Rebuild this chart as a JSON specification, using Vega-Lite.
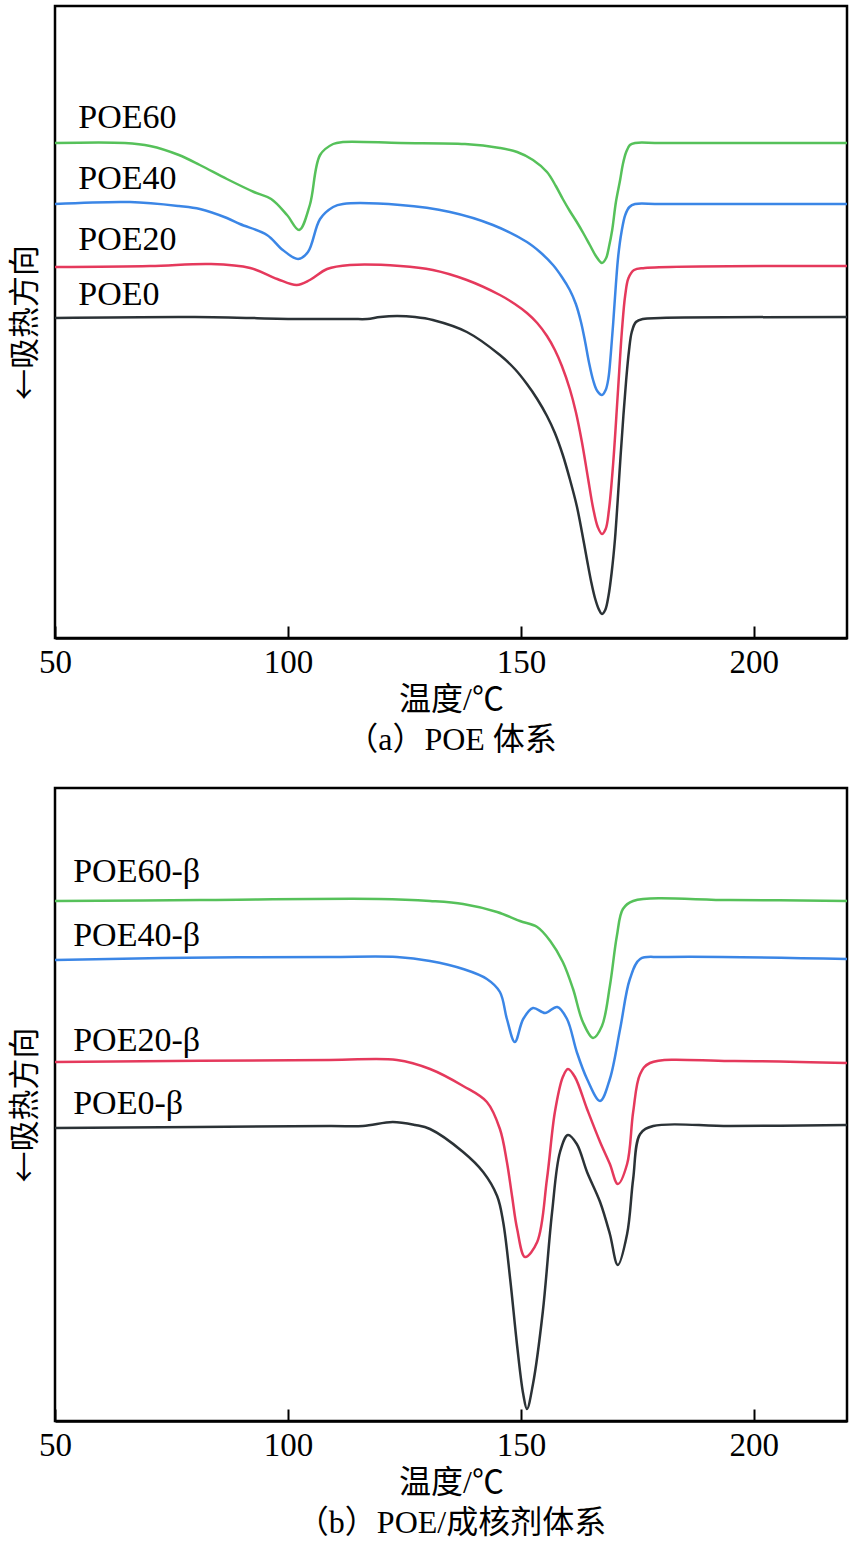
{
  "$schema": "https://vega.github.io/schema/vega-lite/v6.json",
  "padding": {"left": 7, "top": 4, "right": 0, "bottom": 0},
  "background": "white",
  "spacing": 29,
  "config": {
    "view": {"stroke": "black", "strokeWidth": 2.5},
    "axis": {"grid": false, "titleFontWeight": "normal", "titleColor": "black", "labelColor": "black"}
  },
  "datasets": {
    "a": [
      {"s":"POE60","T":50,"v":495},{"s":"POE60","T":65,"v":495},{"s":"POE60","T":70.4,"v":492},{"s":"POE60","T":76.6,"v":483},{"s":"POE60","T":81.1,"v":473},{"s":"POE60","T":86.9,"v":459},{"s":"POE60","T":92.7,"v":446},{"s":"POE60","T":96.4,"v":439},{"s":"POE60","T":99.8,"v":423},{"s":"POE60","T":102.4,"v":408},{"s":"POE60","T":104.7,"v":433},{"s":"POE60","T":106.9,"v":483},{"s":"POE60","T":109.7,"v":494},{"s":"POE60","T":111.8,"v":496},{"s":"POE60","T":124.1,"v":495},{"s":"POE60","T":138,"v":494},{"s":"POE60","T":145.5,"v":490},{"s":"POE60","T":149.2,"v":486},{"s":"POE60","T":152.6,"v":478},{"s":"POE60","T":155.6,"v":466},{"s":"POE60","T":157.5,"v":452},{"s":"POE60","T":159.0,"v":439},{"s":"POE60","T":160.5,"v":427},{"s":"POE60","T":162.0,"v":416},{"s":"POE60","T":163.5,"v":404},{"s":"POE60","T":164.8,"v":393},{"s":"POE60","T":166.1,"v":382},{"s":"POE60","T":167.4,"v":375},{"s":"POE60","T":168.3,"v":380},{"s":"POE60","T":168.9,"v":391},{"s":"POE60","T":169.6,"v":408},{"s":"POE60","T":170.4,"v":436},{"s":"POE60","T":171.3,"v":458},{"s":"POE60","T":171.9,"v":474},{"s":"POE60","T":172.6,"v":486},{"s":"POE60","T":173.4,"v":493},{"s":"POE60","T":174.5,"v":495},{"s":"POE60","T":179.9,"v":495},{"s":"POE60","T":220,"v":495},
      {"s":"POE40","T":50,"v":434},{"s":"POE40","T":66.1,"v":436},{"s":"POE40","T":76.6,"v":432},{"s":"POE40","T":81.1,"v":429},{"s":"POE40","T":86.9,"v":420},{"s":"POE40","T":89.7,"v":414},{"s":"POE40","T":95.5,"v":403},{"s":"POE40","T":98.9,"v":388},{"s":"POE40","T":102.2,"v":379},{"s":"POE40","T":104.3,"v":386},{"s":"POE40","T":106.9,"v":419},{"s":"POE40","T":109.7,"v":431},{"s":"POE40","T":111.8,"v":434},{"s":"POE40","T":124.1,"v":433},{"s":"POE40","T":134.8,"v":426},{"s":"POE40","T":144.0,"v":413},{"s":"POE40","T":151.3,"v":396},{"s":"POE40","T":154.1,"v":386},{"s":"POE40","T":156.9,"v":373},{"s":"POE40","T":158.8,"v":361},{"s":"POE40","T":160.5,"v":348},{"s":"POE40","T":161.8,"v":334},{"s":"POE40","T":162.9,"v":316},{"s":"POE40","T":163.8,"v":296},{"s":"POE40","T":164.6,"v":276},{"s":"POE40","T":165.5,"v":258},{"s":"POE40","T":166.4,"v":247},{"s":"POE40","T":167.4,"v":243},{"s":"POE40","T":168.2,"v":248},{"s":"POE40","T":168.8,"v":260},{"s":"POE40","T":169.3,"v":284},{"s":"POE40","T":169.8,"v":314},{"s":"POE40","T":170.4,"v":354},{"s":"POE40","T":170.9,"v":382},{"s":"POE40","T":171.6,"v":406},{"s":"POE40","T":172.4,"v":423},{"s":"POE40","T":173.3,"v":431},{"s":"POE40","T":174.5,"v":434},{"s":"POE40","T":179.9,"v":434},{"s":"POE40","T":220,"v":434},
      {"s":"POE20","T":50,"v":371},{"s":"POE20","T":70.4,"v":372},{"s":"POE20","T":83.5,"v":374},{"s":"POE20","T":91.9,"v":370},{"s":"POE20","T":97.7,"v":359},{"s":"POE20","T":101.9,"v":353},{"s":"POE20","T":104.7,"v":358},{"s":"POE20","T":108.4,"v":369},{"s":"POE20","T":113.3,"v":373},{"s":"POE20","T":124.1,"v":372},{"s":"POE20","T":131.1,"v":368},{"s":"POE20","T":138.4,"v":358},{"s":"POE20","T":145.5,"v":343},{"s":"POE20","T":148.7,"v":334},{"s":"POE20","T":151.3,"v":325},{"s":"POE20","T":153.5,"v":315},{"s":"POE20","T":155.6,"v":302},{"s":"POE20","T":157.3,"v":288},{"s":"POE20","T":158.8,"v":272},{"s":"POE20","T":160.5,"v":249},{"s":"POE20","T":161.8,"v":226},{"s":"POE20","T":163.1,"v":196},{"s":"POE20","T":164.4,"v":160},{"s":"POE20","T":165.5,"v":130},{"s":"POE20","T":166.5,"v":111},{"s":"POE20","T":167.4,"v":104},{"s":"POE20","T":168.2,"v":109},{"s":"POE20","T":168.9,"v":128},{"s":"POE20","T":169.8,"v":174},{"s":"POE20","T":170.8,"v":244},{"s":"POE20","T":171.7,"v":308},{"s":"POE20","T":172.4,"v":343},{"s":"POE20","T":173.1,"v":360},{"s":"POE20","T":174.3,"v":368},{"s":"POE20","T":176.6,"v":370},{"s":"POE20","T":220,"v":372},
      {"s":"POE0","T":50,"v":320},{"s":"POE0","T":80,"v":321},{"s":"POE0","T":102.6,"v":319},{"s":"POE0","T":113.7,"v":319},{"s":"POE0","T":117,"v":319},{"s":"POE0","T":119.8,"v":321},{"s":"POE0","T":123.4,"v":322},{"s":"POE0","T":127.3,"v":321},{"s":"POE0","T":131.1,"v":318},{"s":"POE0","T":138.4,"v":306},{"s":"POE0","T":145.5,"v":283},{"s":"POE0","T":148.7,"v":269},{"s":"POE0","T":151.3,"v":254},{"s":"POE0","T":153.5,"v":239},{"s":"POE0","T":155.6,"v":222},{"s":"POE0","T":157.3,"v":205},{"s":"POE0","T":159.0,"v":183},{"s":"POE0","T":160.5,"v":159},{"s":"POE0","T":162.0,"v":132},{"s":"POE0","T":163.1,"v":106},{"s":"POE0","T":164.2,"v":78},{"s":"POE0","T":165.1,"v":56},{"s":"POE0","T":165.9,"v":40},{"s":"POE0","T":166.7,"v":29},{"s":"POE0","T":167.4,"v":24},{"s":"POE0","T":168.1,"v":28},{"s":"POE0","T":168.8,"v":42},{"s":"POE0","T":169.5,"v":66},{"s":"POE0","T":170.2,"v":99},{"s":"POE0","T":170.8,"v":139},{"s":"POE0","T":171.4,"v":182},{"s":"POE0","T":172.0,"v":222},{"s":"POE0","T":172.6,"v":258},{"s":"POE0","T":173.2,"v":287},{"s":"POE0","T":173.8,"v":306},{"s":"POE0","T":174.7,"v":316},{"s":"POE0","T":176.2,"v":319},{"s":"POE0","T":179.9,"v":320},{"s":"POE0","T":220,"v":321}
    ],
    "b": [
      {"s":"POE60-β","T":50,"v":520},{"s":"POE60-β","T":81.1,"v":521},{"s":"POE60-β","T":119.5,"v":522},{"s":"POE60-β","T":130.5,"v":520},{"s":"POE60-β","T":137.6,"v":517},{"s":"POE60-β","T":144.9,"v":509},{"s":"POE60-β","T":149.8,"v":500},{"s":"POE60-β","T":153.5,"v":494},{"s":"POE60-β","T":156.3,"v":480},{"s":"POE60-β","T":159.0,"v":459},{"s":"POE60-β","T":161.2,"v":432},{"s":"POE60-β","T":163.3,"v":399},{"s":"POE60-β","T":165.5,"v":383},{"s":"POE60-β","T":167.4,"v":395},{"s":"POE60-β","T":169.1,"v":435},{"s":"POE60-β","T":170.6,"v":485},{"s":"POE60-β","T":171.9,"v":512},{"s":"POE60-β","T":174.1,"v":520},{"s":"POE60-β","T":194.9,"v":521},{"s":"POE60-β","T":220,"v":520},
      {"s":"POE40-β","T":50,"v":461},{"s":"POE40-β","T":73,"v":463},{"s":"POE40-β","T":109,"v":464},{"s":"POE40-β","T":123.4,"v":464},{"s":"POE40-β","T":130.5,"v":460},{"s":"POE40-β","T":137.6,"v":452},{"s":"POE40-β","T":142.7,"v":442},{"s":"POE40-β","T":145.5,"v":429},{"s":"POE40-β","T":147,"v":402},{"s":"POE40-β","T":148.7,"v":379},{"s":"POE40-β","T":150.5,"v":402},{"s":"POE40-β","T":152.6,"v":413},{"s":"POE40-β","T":155.2,"v":408},{"s":"POE40-β","T":157.8,"v":414},{"s":"POE40-β","T":159.9,"v":402},{"s":"POE40-β","T":162,"v":369},{"s":"POE40-β","T":164.2,"v":342},{"s":"POE40-β","T":167,"v":320},{"s":"POE40-β","T":169.1,"v":342},{"s":"POE40-β","T":171.3,"v":392},{"s":"POE40-β","T":173.4,"v":442},{"s":"POE40-β","T":175.6,"v":462},{"s":"POE40-β","T":180.5,"v":464},{"s":"POE40-β","T":220,"v":462},
      {"s":"POE20-β","T":50,"v":359},{"s":"POE20-β","T":109,"v":361},{"s":"POE20-β","T":123.4,"v":361},{"s":"POE20-β","T":130.5,"v":352},{"s":"POE20-β","T":137.6,"v":335},{"s":"POE20-β","T":142.7,"v":319},{"s":"POE20-β","T":145.5,"v":292},{"s":"POE20-β","T":147,"v":259},{"s":"POE20-β","T":148.1,"v":225},{"s":"POE20-β","T":149.2,"v":192},{"s":"POE20-β","T":150.9,"v":164},{"s":"POE20-β","T":153.5,"v":179},{"s":"POE20-β","T":155.6,"v":242},{"s":"POE20-β","T":157.3,"v":309},{"s":"POE20-β","T":159.0,"v":344},{"s":"POE20-β","T":160.1,"v":352},{"s":"POE20-β","T":161.6,"v":344},{"s":"POE20-β","T":164.2,"v":312},{"s":"POE20-β","T":167,"v":279},{"s":"POE20-β","T":169.1,"v":257},{"s":"POE20-β","T":170.8,"v":237},{"s":"POE20-β","T":172.8,"v":257},{"s":"POE20-β","T":174.1,"v":309},{"s":"POE20-β","T":175.6,"v":347},{"s":"POE20-β","T":177.7,"v":358},{"s":"POE20-β","T":194.9,"v":360},{"s":"POE20-β","T":220,"v":358},
      {"s":"POE0-β","T":50,"v":293},{"s":"POE0-β","T":109,"v":295},{"s":"POE0-β","T":116.1,"v":295},{"s":"POE0-β","T":122.5,"v":299},{"s":"POE0-β","T":127.3,"v":296},{"s":"POE0-β","T":130.5,"v":292},{"s":"POE0-β","T":137.6,"v":269},{"s":"POE0-β","T":141.9,"v":249},{"s":"POE0-β","T":144.9,"v":225},{"s":"POE0-β","T":146.2,"v":199},{"s":"POE0-β","T":147.7,"v":142},{"s":"POE0-β","T":149.2,"v":75},{"s":"POE0-β","T":150.5,"v":27},{"s":"POE0-β","T":151.3,"v":12},{"s":"POE0-β","T":152.6,"v":37},{"s":"POE0-β","T":154.7,"v":109},{"s":"POE0-β","T":156.7,"v":209},{"s":"POE0-β","T":158.4,"v":269},{"s":"POE0-β","T":160.1,"v":286},{"s":"POE0-β","T":162.0,"v":277},{"s":"POE0-β","T":164.2,"v":249},{"s":"POE0-β","T":167,"v":219},{"s":"POE0-β","T":169.1,"v":187},{"s":"POE0-β","T":170.8,"v":156},{"s":"POE0-β","T":172.8,"v":187},{"s":"POE0-β","T":174.1,"v":242},{"s":"POE0-β","T":175.6,"v":287},{"s":"POE0-β","T":178.4,"v":295},{"s":"POE0-β","T":194.9,"v":295},{"s":"POE0-β","T":220,"v":296}
    ],
    "la": [
      {"label":"POE60","T":55,"v":510},{"label":"POE40","T":55,"v":449},{"label":"POE20","T":55,"v":388},{"label":"POE0","T":55,"v":333}
    ],
    "lb": [
      {"label":"POE60-β","T":53.9,"v":539},{"label":"POE40-β","T":53.9,"v":475},{"label":"POE20-β","T":53.9,"v":370},{"label":"POE0-β","T":53.9,"v":307}
    ]
  },
  "vconcat": [
    {
      "width": 792, "height": 632,
      "layer": [
        {
          "data": {"name": "a"},
          "mark": {"type": "line", "strokeWidth": 2.5, "interpolate": "catmull-rom"},
          "encoding": {
            "x": {"field": "T", "type": "quantitative", "scale": {"domain": [50, 220], "nice": false, "zero": false},
              "axis": {"values": [50, 100, 150, 200], "tickSize": -12, "tickWidth": 2, "tickColor": "black", "domainColor": "black", "domainWidth": 2.5,
                "labelFont": "Liberation Serif", "labelFontSize": 33, "labelPadding": 20, "labelFlush": false,
                "title": ["温度/℃", "（a）POE 体系"], "titleFont": "Liberation Serif, Noto Sans CJK SC", "titleFontSize": 32, "titleLineHeight": 40, "titlePadding": 5}},
            "y": {"field": "v", "type": "quantitative", "scale": {"domain": [0, 632], "nice": false, "zero": false},
              "axis": {"labels": false, "ticks": false, "domain": false, "title": "←吸热方向", "titleFont": "Noto Sans CJK SC", "titleFontSize": 31, "titlePadding": 14}},
            "color": {"field": "s", "type": "nominal", "legend": null,
              "scale": {"domain": ["POE60", "POE40", "POE20", "POE0"], "range": ["#56c15a", "#3b86e6", "#e5395c", "#2b3236"]}}
          }
        },
        {
          "data": {"name": "la"},
          "mark": {"type": "text", "align": "left", "baseline": "alphabetic", "font": "Liberation Serif", "fontSize": 34, "color": "black"},
          "encoding": {
            "x": {"field": "T", "type": "quantitative", "scale": {"domain": [50, 220], "nice": false, "zero": false}},
            "y": {"field": "v", "type": "quantitative", "scale": {"domain": [0, 632], "nice": false, "zero": false}},
            "text": {"field": "label"}
          }
        }
      ]
    },
    {
      "width": 792, "height": 633,
      "layer": [
        {
          "data": {"name": "b"},
          "mark": {"type": "line", "strokeWidth": 2.5, "interpolate": "catmull-rom"},
          "encoding": {
            "x": {"field": "T", "type": "quantitative", "scale": {"domain": [50, 220], "nice": false, "zero": false},
              "axis": {"values": [50, 100, 150, 200], "tickSize": -12, "tickWidth": 2, "tickColor": "black", "domainColor": "black", "domainWidth": 2.5,
                "labelFont": "Liberation Serif", "labelFontSize": 33, "labelPadding": 20, "labelFlush": false,
                "title": ["温度/℃", "（b）POE/成核剂体系"], "titleFont": "Liberation Serif, Noto Sans CJK SC", "titleFontSize": 32, "titleLineHeight": 40, "titlePadding": 5}},
            "y": {"field": "v", "type": "quantitative", "scale": {"domain": [0, 633], "nice": false, "zero": false},
              "axis": {"labels": false, "ticks": false, "domain": false, "title": "←吸热方向", "titleFont": "Noto Sans CJK SC", "titleFontSize": 31, "titlePadding": 14}},
            "color": {"field": "s", "type": "nominal", "legend": null,
              "scale": {"domain": ["POE60-β", "POE40-β", "POE20-β", "POE0-β"], "range": ["#56c15a", "#3b86e6", "#e5395c", "#2b3236"]}}
          }
        },
        {
          "data": {"name": "lb"},
          "mark": {"type": "text", "align": "left", "baseline": "alphabetic", "font": "Liberation Serif", "fontSize": 34, "color": "black"},
          "encoding": {
            "x": {"field": "T", "type": "quantitative", "scale": {"domain": [50, 220], "nice": false, "zero": false}},
            "y": {"field": "v", "type": "quantitative", "scale": {"domain": [0, 633], "nice": false, "zero": false}},
            "text": {"field": "label"}
          }
        }
      ]
    }
  ]
}
